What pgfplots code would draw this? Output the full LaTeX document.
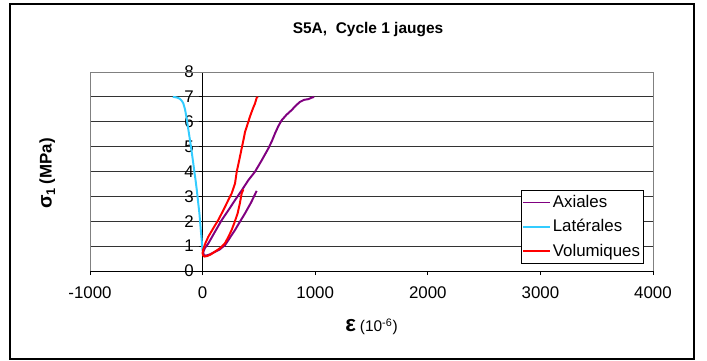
\documentclass[border=0pt]{standalone}
\usepackage{pgfplots}
\pgfplotsset{compat=1.18}
\usepackage{fontspec}
\setmainfont{Liberation Sans}

\definecolor{axpurple}{HTML}{800080}
\definecolor{latcyan}{HTML}{33CCFF}
\definecolor{volred}{HTML}{FF0000}

\begin{document}
\fontsize{10}{12}\selectfont
\begin{tikzpicture}
% page = 707 x 360 px, 1 px = 0.025 cm
\path (0,0) (17.675,-9);
\draw[line width=0.9pt] (0.25,-0.1) rectangle (17.35,-8.975);
\node[font=\bfseries\fontsize{11}{13}\selectfont] at (9.2,-0.75) {S5A,\ \ Cycle 1 jauges};

\begin{axis}[
    at={(2.25cm,-6.775cm)}, anchor=south west,
    scale only axis,
    width=14.075cm, height=4.975cm,
    xmin=-1000, xmax=4000,
    ymin=0, ymax=8,
    xtick={-1000,0,1000,2000,3000,4000},
    ytick={0,1,2,3,4,5,6,7,8},
    axis x line=bottom,
    axis y line=left,
    axis y line shift=-2.815cm,
    axis line style={-, black, line width=0.7pt},
    tick align=outside,
    major tick length=0.1cm,
    tick style={black, line width=0.7pt},
    ymajorgrids,
    grid style={black!80, line width=0.7pt},
    /pgf/number format/assume math mode=true,
    /pgf/number format/set thousands separator={},
    ticklabel style={font=\fontsize{12}{14}\selectfont},
    xticklabel style={yshift=-5pt},
    xlabel={{\bfseries\fontsize{16}{16}\selectfont ε}\ {\fontsize{11}{12}\selectfont(10\textsuperscript{-6})}},
    ylabel={{\bfseries\fontsize{14}{14}\selectfont σ\raisebox{-0.35ex}{\fontsize{9}{9}\selectfont 1}}\ {\bfseries\fontsize{12}{12}\selectfont (MPa)}},
    xlabel style={at={(axis description cs:0.5,-0.28)}, anchor=center},
    ylabel style={at={(axis description cs:-0.076,0.49)}, anchor=center},
    legend style={at={(axis description cs:0.984,0.407)}, anchor=north east,
        draw=black, fill=white, line width=0.6pt,
        font=\fontsize{12}{14}\selectfont,
        inner xsep=1pt, inner ysep=2pt, row sep=4pt,
        nodes={inner sep=1.5pt}},
    legend cell align=left,
    legend image code/.code={\draw[#1, line width=1.1pt] (0cm,0cm) -- (0.67cm,0cm);},
    clip=false,
]
\draw[gray, line width=0.7pt] (rel axis cs:0,0) -- (rel axis cs:0,1) -- (rel axis cs:1,1) -- (rel axis cs:1,0);

\addplot[color=axpurple, line width=1.4pt, line join=round] coordinates {
(480,3.22) (430,2.75) (377,2.32) (330,1.97) (288,1.65) (240,1.32) (199,1.04)
(150,0.86) (100,0.75) (60,0.66) (30,0.62) (12,0.64)
(5,0.75) (20,0.92) (51,1.11) (110,1.58) (170,2.05) (230,2.45) (288,2.85)
(350,3.26) (406,3.65) (465,3.99) (525,4.45)
(584,4.93) (615,5.22) (643,5.53) (672,5.82) (702,6.06) (745,6.28) (791,6.47)
(830,6.66) (865,6.8) (900,6.88) (939,6.91) (970,6.97) (990,7.0)
};
\addlegendentry{Axiales}

\addplot[color=latcyan, line width=1.4pt, line join=round] coordinates {
(0,0.8) (-9,1.3) (-17,1.7) (-28,2.3) (-38,2.7) (-50,3.2) (-61,3.6) (-76,4.1) (-91,4.6)
(-110,5.2) (-127,5.7) (-142,6.15) (-156,6.5) (-172,6.75) (-186,6.85)
(-205,6.93) (-225,6.97) (-245,6.99) (-265,7.0)
};
\addlegendentry{Latérales}

\addplot[color=volred, line width=1.4pt, line join=round] coordinates {
(362,3.28) (347,3.12) (330,2.7) (311,2.32) (285,1.97) (258,1.65) (230,1.38)
(199,1.12) (155,0.92) (110,0.78) (70,0.66) (40,0.6)
(15,0.58) (4,0.63) (0,0.72) (4,0.85) (25,1.12) (51,1.38) (95,1.72) (139,2.05)
(185,2.45) (228,2.85) (258,3.12) (288,3.52)
(303,3.99) (325,4.45) (347,4.93) (362,5.25) (377,5.59) (392,5.8) (406,6.0) (420,6.2)
(436,6.4) (450,6.57) (465,6.73) (480,6.96) (490,7.0)
};
\addlegendentry{Volumiques}
\end{axis}
\end{tikzpicture}
\end{document}
